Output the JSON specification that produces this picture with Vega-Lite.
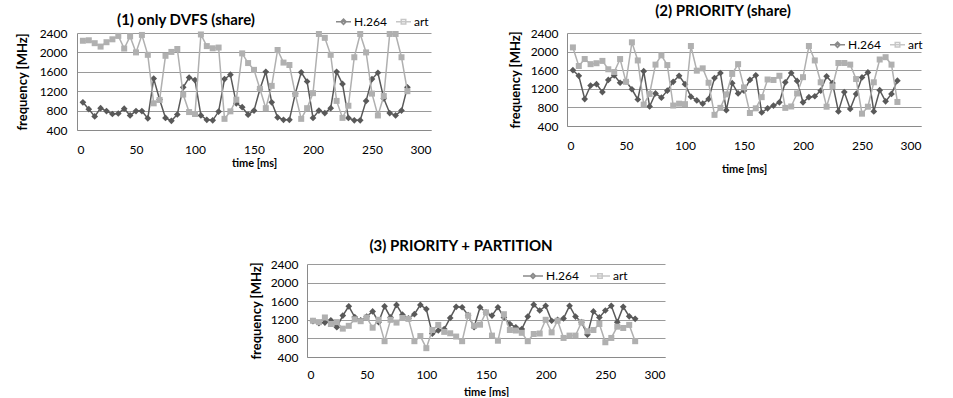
{
"$schema":"https://vega.github.io/schema/vega-lite/v6.json",
"padding":{"left":16,"top":4,"right":5,"bottom":0},
"config":{"font":"Lato","view":{"stroke":null},"axis":{"labelColor":"#000","titleColor":"#000","labelFontSize":12,"ticks":false,"domainColor":"#8a8a8a","gridColor":"#9a9a9a","gridWidth":1},"title":{"fontSize":15,"fontWeight":"bold","color":"#000"},"legend":{"labelFontSize":12,"labelColor":"#000","padding":0}},
"datasets":{
"p1":[
{"t":5,"s":"H.264","f":970},{"t":10,"s":"H.264","f":830},{"t":15,"s":"H.264","f":680},{"t":20,"s":"H.264","f":850},{"t":25,"s":"H.264","f":790},{"t":30,"s":"H.264","f":730},{"t":35,"s":"H.264","f":740},{"t":40,"s":"H.264","f":840},{"t":45,"s":"H.264","f":700},{"t":50,"s":"H.264","f":790},{"t":55,"s":"H.264","f":790},{"t":60,"s":"H.264","f":640},{"t":65,"s":"H.264","f":1460},{"t":70,"s":"H.264","f":1030},{"t":75,"s":"H.264","f":650},{"t":80,"s":"H.264","f":590},{"t":85,"s":"H.264","f":720},{"t":90,"s":"H.264","f":1280},{"t":95,"s":"H.264","f":1480},{"t":100,"s":"H.264","f":1430},{"t":105,"s":"H.264","f":700},{"t":110,"s":"H.264","f":610},{"t":115,"s":"H.264","f":600},{"t":120,"s":"H.264","f":780},{"t":125,"s":"H.264","f":1450},{"t":130,"s":"H.264","f":1540},{"t":135,"s":"H.264","f":950},{"t":140,"s":"H.264","f":870},{"t":145,"s":"H.264","f":715},{"t":150,"s":"H.264","f":800},{"t":155,"s":"H.264","f":1240},{"t":160,"s":"H.264","f":1600},{"t":165,"s":"H.264","f":970},{"t":170,"s":"H.264","f":660},{"t":175,"s":"H.264","f":610},{"t":180,"s":"H.264","f":610},{"t":185,"s":"H.264","f":1150},{"t":190,"s":"H.264","f":1590},{"t":195,"s":"H.264","f":1400},{"t":200,"s":"H.264","f":650},{"t":205,"s":"H.264","f":800},{"t":210,"s":"H.264","f":750},{"t":215,"s":"H.264","f":850},{"t":220,"s":"H.264","f":1600},{"t":225,"s":"H.264","f":1350},{"t":230,"s":"H.264","f":650},{"t":235,"s":"H.264","f":600},{"t":240,"s":"H.264","f":600},{"t":245,"s":"H.264","f":1000},{"t":250,"s":"H.264","f":1450},{"t":255,"s":"H.264","f":1580},{"t":260,"s":"H.264","f":1050},{"t":265,"s":"H.264","f":750},{"t":270,"s":"H.264","f":700},{"t":275,"s":"H.264","f":800},{"t":280,"s":"H.264","f":1280},
{"t":5,"s":"art","f":2240},{"t":10,"s":"art","f":2250},{"t":15,"s":"art","f":2190},{"t":20,"s":"art","f":2120},{"t":25,"s":"art","f":2210},{"t":30,"s":"art","f":2270},{"t":35,"s":"art","f":2340},{"t":40,"s":"art","f":2080},{"t":45,"s":"art","f":2330},{"t":50,"s":"art","f":2000},{"t":55,"s":"art","f":2360},{"t":60,"s":"art","f":1950},{"t":65,"s":"art","f":950},{"t":70,"s":"art","f":1020},{"t":75,"s":"art","f":1930},{"t":80,"s":"art","f":2010},{"t":85,"s":"art","f":2070},{"t":90,"s":"art","f":1130},{"t":95,"s":"art","f":770},{"t":100,"s":"art","f":730},{"t":105,"s":"art","f":2370},{"t":110,"s":"art","f":2130},{"t":115,"s":"art","f":2085},{"t":120,"s":"art","f":2100},{"t":125,"s":"art","f":630},{"t":130,"s":"art","f":785},{"t":135,"s":"art","f":1025},{"t":140,"s":"art","f":1980},{"t":145,"s":"art","f":1780},{"t":150,"s":"art","f":1640},{"t":155,"s":"art","f":1250},{"t":160,"s":"art","f":850},{"t":165,"s":"art","f":1310},{"t":170,"s":"art","f":2050},{"t":175,"s":"art","f":1790},{"t":180,"s":"art","f":1740},{"t":185,"s":"art","f":1140},{"t":190,"s":"art","f":630},{"t":195,"s":"art","f":850},{"t":200,"s":"art","f":1160},{"t":205,"s":"art","f":2380},{"t":210,"s":"art","f":2300},{"t":215,"s":"art","f":1950},{"t":220,"s":"art","f":1000},{"t":225,"s":"art","f":650},{"t":230,"s":"art","f":900},{"t":235,"s":"art","f":1900},{"t":240,"s":"art","f":2380},{"t":245,"s":"art","f":2000},{"t":250,"s":"art","f":1150},{"t":255,"s":"art","f":700},{"t":260,"s":"art","f":1100},{"t":265,"s":"art","f":2380},{"t":270,"s":"art","f":2380},{"t":275,"s":"art","f":1900},{"t":280,"s":"art","f":1200}
],
"p2":[
{"t":5,"s":"H.264","f":1600},{"t":10,"s":"H.264","f":1480},{"t":15,"s":"H.264","f":980},{"t":20,"s":"H.264","f":1270},{"t":25,"s":"H.264","f":1300},{"t":30,"s":"H.264","f":1130},{"t":35,"s":"H.264","f":1390},{"t":40,"s":"H.264","f":1490},{"t":45,"s":"H.264","f":1330},{"t":50,"s":"H.264","f":1360},{"t":55,"s":"H.264","f":1190},{"t":60,"s":"H.264","f":970},{"t":65,"s":"H.264","f":1580},{"t":70,"s":"H.264","f":820},{"t":75,"s":"H.264","f":1100},{"t":80,"s":"H.264","f":1010},{"t":85,"s":"H.264","f":1160},{"t":90,"s":"H.264","f":1350},{"t":95,"s":"H.264","f":1480},{"t":100,"s":"H.264","f":1300},{"t":105,"s":"H.264","f":1030},{"t":110,"s":"H.264","f":950},{"t":115,"s":"H.264","f":880},{"t":120,"s":"H.264","f":980},{"t":125,"s":"H.264","f":1430},{"t":130,"s":"H.264","f":1540},{"t":135,"s":"H.264","f":740},{"t":140,"s":"H.264","f":1320},{"t":145,"s":"H.264","f":1100},{"t":150,"s":"H.264","f":1160},{"t":155,"s":"H.264","f":1390},{"t":160,"s":"H.264","f":1490},{"t":165,"s":"H.264","f":690},{"t":170,"s":"H.264","f":780},{"t":175,"s":"H.264","f":840},{"t":180,"s":"H.264","f":910},{"t":185,"s":"H.264","f":1340},{"t":190,"s":"H.264","f":1540},{"t":195,"s":"H.264","f":1370},{"t":200,"s":"H.264","f":910},{"t":205,"s":"H.264","f":1020},{"t":210,"s":"H.264","f":1040},{"t":215,"s":"H.264","f":1160},{"t":220,"s":"H.264","f":1470},{"t":225,"s":"H.264","f":1325},{"t":230,"s":"H.264","f":714},{"t":235,"s":"H.264","f":1130},{"t":240,"s":"H.264","f":766},{"t":245,"s":"H.264","f":1090},{"t":250,"s":"H.264","f":1445},{"t":255,"s":"H.264","f":1553},{"t":260,"s":"H.264","f":714},{"t":265,"s":"H.264","f":1170},{"t":270,"s":"H.264","f":930},{"t":275,"s":"H.264","f":1090},{"t":280,"s":"H.264","f":1375},
{"t":5,"s":"art","f":2090},{"t":10,"s":"art","f":1690},{"t":15,"s":"art","f":1840},{"t":20,"s":"art","f":1730},{"t":25,"s":"art","f":1750},{"t":30,"s":"art","f":1800},{"t":35,"s":"art","f":1620},{"t":40,"s":"art","f":1560},{"t":45,"s":"art","f":1840},{"t":50,"s":"art","f":1350},{"t":55,"s":"art","f":2200},{"t":60,"s":"art","f":1810},{"t":65,"s":"art","f":860},{"t":70,"s":"art","f":1090},{"t":75,"s":"art","f":1720},{"t":80,"s":"art","f":1920},{"t":85,"s":"art","f":1710},{"t":90,"s":"art","f":840},{"t":95,"s":"art","f":880},{"t":100,"s":"art","f":870},{"t":105,"s":"art","f":2120},{"t":110,"s":"art","f":1590},{"t":115,"s":"art","f":1640},{"t":120,"s":"art","f":1330},{"t":125,"s":"art","f":640},{"t":130,"s":"art","f":790},{"t":135,"s":"art","f":1080},{"t":140,"s":"art","f":1520},{"t":145,"s":"art","f":1730},{"t":150,"s":"art","f":1230},{"t":155,"s":"art","f":680},{"t":160,"s":"art","f":780},{"t":165,"s":"art","f":1020},{"t":170,"s":"art","f":1400},{"t":175,"s":"art","f":1390},{"t":180,"s":"art","f":1480},{"t":185,"s":"art","f":790},{"t":190,"s":"art","f":820},{"t":195,"s":"art","f":1100},{"t":200,"s":"art","f":1450},{"t":205,"s":"art","f":2120},{"t":210,"s":"art","f":1810},{"t":215,"s":"art","f":1340},{"t":220,"s":"art","f":815},{"t":225,"s":"art","f":1250},{"t":230,"s":"art","f":1755},{"t":235,"s":"art","f":1755},{"t":240,"s":"art","f":1720},{"t":245,"s":"art","f":1410},{"t":250,"s":"art","f":665},{"t":255,"s":"art","f":815},{"t":260,"s":"art","f":1340},{"t":265,"s":"art","f":1830},{"t":270,"s":"art","f":1880},{"t":275,"s":"art","f":1720},{"t":280,"s":"art","f":917}
],
"p3":[
{"t":5,"s":"H.264","f":1170},{"t":10,"s":"H.264","f":1130},{"t":15,"s":"H.264","f":1140},{"t":20,"s":"H.264","f":1190},{"t":25,"s":"H.264","f":1040},{"t":30,"s":"H.264","f":1290},{"t":35,"s":"H.264","f":1490},{"t":40,"s":"H.264","f":1260},{"t":45,"s":"H.264","f":1190},{"t":50,"s":"H.264","f":1270},{"t":55,"s":"H.264","f":1380},{"t":60,"s":"H.264","f":1150},{"t":65,"s":"H.264","f":1490},{"t":70,"s":"H.264","f":1250},{"t":75,"s":"H.264","f":1520},{"t":80,"s":"H.264","f":1310},{"t":85,"s":"H.264","f":1230},{"t":90,"s":"H.264","f":1320},{"t":95,"s":"H.264","f":1520},{"t":100,"s":"H.264","f":1430},{"t":105,"s":"H.264","f":900},{"t":110,"s":"H.264","f":970},{"t":115,"s":"H.264","f":1000},{"t":120,"s":"H.264","f":1240},{"t":125,"s":"H.264","f":1480},{"t":130,"s":"H.264","f":1470},{"t":135,"s":"H.264","f":1300},{"t":140,"s":"H.264","f":1040},{"t":145,"s":"H.264","f":1470},{"t":150,"s":"H.264","f":1360},{"t":155,"s":"H.264","f":1290},{"t":160,"s":"H.264","f":1470},{"t":165,"s":"H.264","f":1250},{"t":170,"s":"H.264","f":1110},{"t":175,"s":"H.264","f":1040},{"t":180,"s":"H.264","f":1000},{"t":185,"s":"H.264","f":1270},{"t":190,"s":"H.264","f":1525},{"t":195,"s":"H.264","f":1400},{"t":200,"s":"H.264","f":1500},{"t":205,"s":"H.264","f":1180},{"t":210,"s":"H.264","f":1200},{"t":215,"s":"H.264","f":1230},{"t":220,"s":"H.264","f":1500},{"t":225,"s":"H.264","f":1270},{"t":230,"s":"H.264","f":1150},{"t":235,"s":"H.264","f":880},{"t":240,"s":"H.264","f":1380},{"t":245,"s":"H.264","f":1250},{"t":250,"s":"H.264","f":1400},{"t":255,"s":"H.264","f":1500},{"t":260,"s":"H.264","f":1150},{"t":265,"s":"H.264","f":1480},{"t":270,"s":"H.264","f":1275},{"t":275,"s":"H.264","f":1220},
{"t":5,"s":"art","f":1180},{"t":10,"s":"art","f":1150},{"t":15,"s":"art","f":1250},{"t":20,"s":"art","f":1110},{"t":25,"s":"art","f":1150},{"t":30,"s":"art","f":1010},{"t":35,"s":"art","f":1070},{"t":40,"s":"art","f":1210},{"t":45,"s":"art","f":1170},{"t":50,"s":"art","f":1250},{"t":55,"s":"art","f":1030},{"t":60,"s":"art","f":1200},{"t":65,"s":"art","f":740},{"t":70,"s":"art","f":1200},{"t":75,"s":"art","f":1140},{"t":80,"s":"art","f":1240},{"t":85,"s":"art","f":1220},{"t":90,"s":"art","f":740},{"t":95,"s":"art","f":850},{"t":100,"s":"art","f":590},{"t":105,"s":"art","f":980},{"t":110,"s":"art","f":1090},{"t":115,"s":"art","f":940},{"t":120,"s":"art","f":910},{"t":125,"s":"art","f":840},{"t":130,"s":"art","f":740},{"t":135,"s":"art","f":1290},{"t":140,"s":"art","f":1070},{"t":145,"s":"art","f":1095},{"t":150,"s":"art","f":1360},{"t":155,"s":"art","f":860},{"t":160,"s":"art","f":750},{"t":165,"s":"art","f":1320},{"t":170,"s":"art","f":980},{"t":175,"s":"art","f":970},{"t":180,"s":"art","f":920},{"t":185,"s":"art","f":740},{"t":190,"s":"art","f":895},{"t":195,"s":"art","f":905},{"t":200,"s":"art","f":1200},{"t":205,"s":"art","f":930},{"t":210,"s":"art","f":1180},{"t":215,"s":"art","f":810},{"t":220,"s":"art","f":860},{"t":225,"s":"art","f":860},{"t":230,"s":"art","f":1146},{"t":235,"s":"art","f":953},{"t":240,"s":"art","f":980},{"t":245,"s":"art","f":1110},{"t":250,"s":"art","f":717},{"t":255,"s":"art","f":810},{"t":260,"s":"art","f":1052},{"t":265,"s":"art","f":1024},{"t":270,"s":"art","f":1090},{"t":275,"s":"art","f":740}
]},
"resolve":{"scale":{"color":"independent","shape":"independent"},"legend":{"color":"independent","shape":"independent"}},
"vconcat":[
{"resolve":{"scale":{"color":"independent","shape":"independent"},"legend":{"color":"independent","shape":"independent"}},
"hconcat":[
{"width":354,"height":97,"data":{"name":"p1"},
"title":{"text":"(1) only DVFS (share)","dx":-68,"offset":-15},
"encoding":{"x":{"field":"t","type":"quantitative","scale":{"domain":[0,300]},"axis":{"values":[0,50,100,150,200,250,300],"title":"time [ms]","grid":false,"labelPadding":14,"titlePadding":2,"titleFontSize":11}},
"y":{"field":"f","type":"quantitative","scale":{"domain":[400,2400]},"axis":{"values":[400,800,1200,1600,2000,2400],"format":"d","title":"frequency [MHz]","titleFontSize":13,"labelPadding":10,"titlePadding":10}}},
"layer":[
{"transform":[{"filter":"datum.s==='H.264'"}],"mark":{"type":"line","strokeWidth":1.5,"color":"#595959"}},
{"transform":[{"filter":"datum.s==='H.264'"}],"mark":{"type":"point","shape":"diamond","filled":true,"size":45,"opacity":1,"color":"#595959"}},
{"transform":[{"filter":"datum.s==='art'"}],"mark":{"type":"line","strokeWidth":1.5,"color":"#b0b0b0"}},
{"transform":[{"filter":"datum.s==='art'"}],"mark":{"type":"point","shape":"square","filled":true,"size":36,"opacity":1,"color":"#b0b0b0"}},
{"transform":[{"filter":"datum.t < 0"}],"mark":{"type":"point","filled":false,"strokeWidth":1.5},"encoding":{
"color":{"field":"s","type":"nominal","scale":{"domain":["H.264","art"],"range":["#595959","#b0b0b0"]},"legend":{"title":null,"orient":"none","legendX":258,"legendY":-20,"direction":"horizontal","symbolSize":225,"symbolStrokeWidth":1.5,"columnPadding":6,"labelOffset":2}},
"shape":{"field":"s","type":"nominal","scale":{"domain":["H.264","art"],"range":["M-1,0L1,0M0,-0.35L0.35,0L0,0.35L-0.35,0Z","M-1,0L1,0M-0.3,-0.3L0.3,-0.3L0.3,0.3L-0.3,0.3Z"]},"legend":{"title":null,"orient":"none","legendX":258,"legendY":-20,"direction":"horizontal","symbolSize":225,"symbolStrokeWidth":1.5,"columnPadding":6,"labelOffset":2}}}}
]},
{"width":354,"height":93,"data":{"name":"p2"},
"title":{"text":"(2) PRIORITY (share)","dx":-21,"offset":8},
"encoding":{"x":{"field":"t","type":"quantitative","scale":{"domain":[0,300]},"axis":{"values":[0,50,100,150,200,250,300],"title":"time [ms]","grid":false,"labelPadding":14,"titlePadding":12,"titleFontSize":11}},
"y":{"field":"f","type":"quantitative","scale":{"domain":[400,2400]},"axis":{"values":[400,800,1200,1600,2000,2400],"format":"d","title":"frequency [MHz]","titleFontSize":13,"labelPadding":9,"titlePadding":8}}},
"layer":[
{"transform":[{"filter":"datum.s==='H.264'"}],"mark":{"type":"line","strokeWidth":1.5,"color":"#595959"}},
{"transform":[{"filter":"datum.s==='H.264'"}],"mark":{"type":"point","shape":"diamond","filled":true,"size":45,"opacity":1,"color":"#595959"}},
{"transform":[{"filter":"datum.s==='art'"}],"mark":{"type":"line","strokeWidth":1.5,"color":"#b0b0b0"}},
{"transform":[{"filter":"datum.s==='art'"}],"mark":{"type":"point","shape":"square","filled":true,"size":36,"opacity":1,"color":"#b0b0b0"}},
{"transform":[{"filter":"datum.t < 0"}],"mark":{"type":"point","filled":false,"strokeWidth":1.5},"encoding":{
"color":{"field":"s","type":"nominal","scale":{"domain":["H.264","art"],"range":["#595959","#b0b0b0"]},"legend":{"title":null,"orient":"none","legendX":262,"legendY":3,"direction":"horizontal","symbolSize":225,"symbolStrokeWidth":1.5,"columnPadding":6,"labelOffset":2}},
"shape":{"field":"s","type":"nominal","scale":{"domain":["H.264","art"],"range":["M-1,0L1,0M0,-0.35L0.35,0L0,0.35L-0.35,0Z","M-1,0L1,0M-0.3,-0.3L0.3,-0.3L0.3,0.3L-0.3,0.3Z"]},"legend":{"title":null,"orient":"none","legendX":262,"legendY":3,"direction":"horizontal","symbolSize":225,"symbolStrokeWidth":1.5,"columnPadding":6,"labelOffset":2}}}}
]}
],"spacing":78},
{"resolve":{"scale":{"color":"independent","shape":"independent"},"legend":{"color":"independent","shape":"independent"}},
"hconcat":[
{"width":358,"height":93,"data":{"name":"p3"},
"title":{"text":"(3) PRIORITY + PARTITION","dx":-25,"offset":4},
"encoding":{"x":{"field":"t","type":"quantitative","scale":{"domain":[0,300]},"axis":{"values":[0,50,100,150,200,250,300],"title":"time [ms]","grid":false,"labelPadding":12,"titlePadding":6,"titleFontSize":11}},
"y":{"field":"f","type":"quantitative","scale":{"domain":[400,2400]},"axis":{"values":[400,800,1200,1600,2000,2400],"format":"d","title":"frequency [MHz]","titleFontSize":13,"labelPadding":9,"titlePadding":7}}},
"layer":[
{"transform":[{"filter":"datum.s==='H.264'"}],"mark":{"type":"line","strokeWidth":1.5,"color":"#595959"}},
{"transform":[{"filter":"datum.s==='H.264'"}],"mark":{"type":"point","shape":"diamond","filled":true,"size":45,"opacity":1,"color":"#595959"}},
{"transform":[{"filter":"datum.s==='art'"}],"mark":{"type":"line","strokeWidth":1.5,"color":"#b0b0b0"}},
{"transform":[{"filter":"datum.s==='art'"}],"mark":{"type":"point","shape":"square","filled":true,"size":36,"opacity":1,"color":"#b0b0b0"}},
{"transform":[{"filter":"datum.t < 0"}],"mark":{"type":"point","filled":false,"strokeWidth":1.5},"encoding":{
"color":{"field":"s","type":"nominal","scale":{"domain":["H.264","art"],"range":["#595959","#b0b0b0"]},"legend":{"title":null,"orient":"none","legendX":215,"legendY":1,"direction":"horizontal","symbolSize":400,"symbolStrokeWidth":1.5,"columnPadding":8,"labelOffset":2}},
"shape":{"field":"s","type":"nominal","scale":{"domain":["H.264","art"],"range":["M-1,0L1,0M0,-0.25L0.25,0L0,0.25L-0.25,0Z","M-1,0L1,0M-0.22,-0.22L0.22,-0.22L0.22,0.22L-0.22,0.22Z"]},"legend":{"title":null,"orient":"none","legendX":215,"legendY":1,"direction":"horizontal","symbolSize":400,"symbolStrokeWidth":1.5,"columnPadding":8,"labelOffset":2}}}}
]},
{"width":28,"height":10,"data":{"values":[]},"mark":"point"}
],"spacing":0}
],"spacing":65,"center":true
}
